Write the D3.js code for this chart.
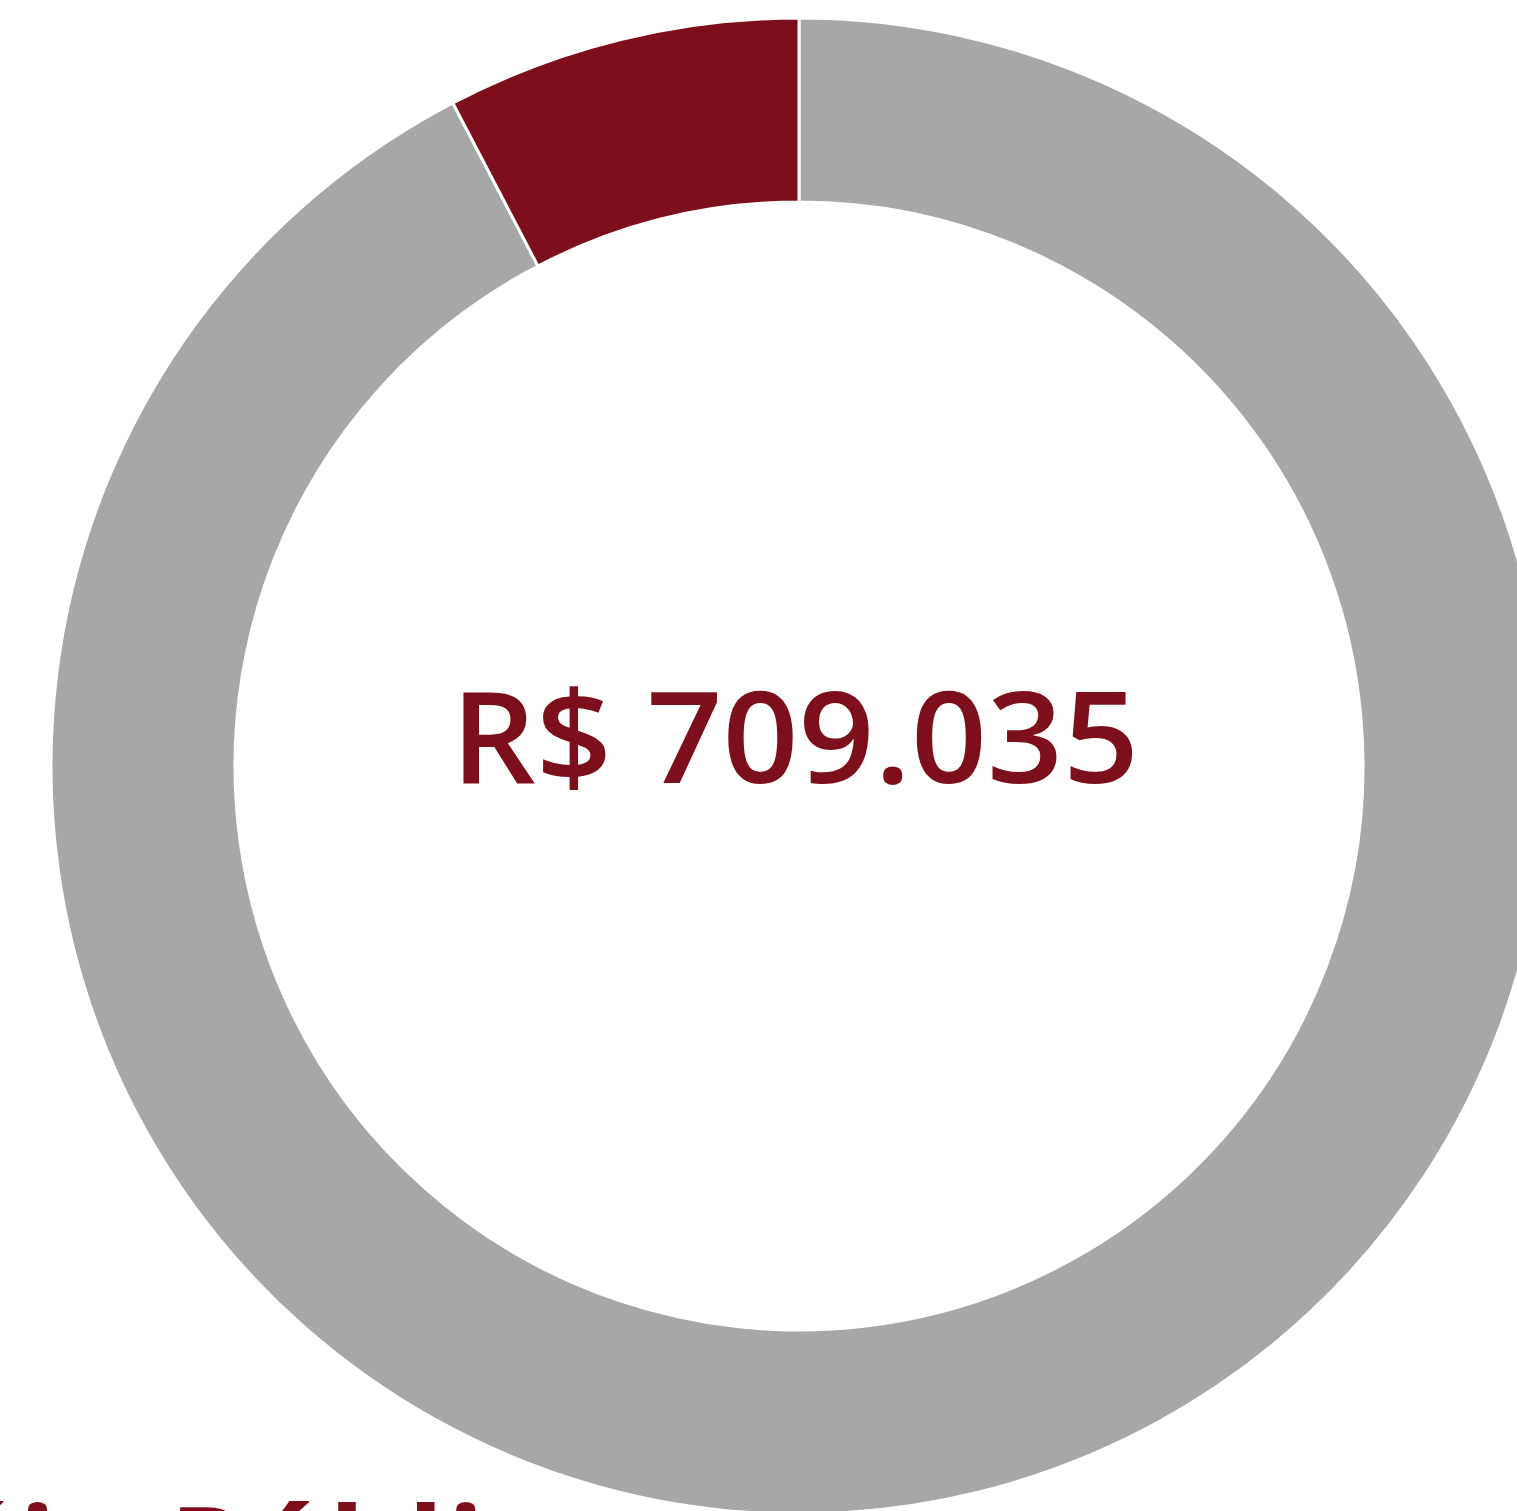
<!DOCTYPE html>
<html><head><meta charset="utf-8">
<script src="https://cdn.jsdelivr.net/npm/d3@7"></script>
<style>html,body{margin:0;padding:0;background:#fff;overflow:hidden}</style>
</head><body>
<svg id="c" width="1517" height="1511"></svg>
<script>
const categories = ["Outros", "Destaque"];
const values = [654.7, 54.3];
const colors = ["#a7a7a7", "#7d0f1c"];
const centerLabel = "R$ 709.035";
const bottomLabel = "Assembléia Pública";

const svg = d3.select("#c");
const cx = 799, cy = 766, R = 748, r = 564;
const g = svg.append("g").attr("transform", `translate(${cx},${cy})`);
const pie = d3.pie().sort(null).value(d => d.v);
const arc = d3.arc().innerRadius(r).outerRadius(R);
const data = categories.map((c, i) => ({c, v: values[i], col: colors[i]}));
g.selectAll("path").data(pie(data)).join("path")
  .attr("d", arc).attr("fill", d => d.data.col)
  .attr("stroke", "#fff").attr("stroke-width", 3);

g.append("text").text(centerLabel)
  .attr("x", -4).attr("y", 17)
  .attr("text-anchor", "middle")
  .attr("fill", "#7d0f1c")
  .style("font-family", "'Open Sans', sans-serif")
  .style("font-weight", 600)
  .style("font-size", "126px")
  .attr("textLength", 688).attr("lengthAdjust", "spacingAndGlyphs");

// bottom label, mostly cut off by the page edge
const fs = 118;
const bt = svg.append("text").text(bottomLabel)
  .attr("x", 0).attr("y", 1508 + 0.714 * fs)
  .attr("fill", "#7d0f1c")
  .style("font-family", "'Open Sans', sans-serif")
  .style("font-weight", "bold")
  .style("font-size", fs + "px")
  .style("letter-spacing", "4px");
const node = bt.node();
const iP = bottomLabel.indexOf("P");
const pX = node.getStartPositionOfChar(iP).x;
bt.attr("x", 180 - 0.09 * fs - pX);
</script>
</body></html>
